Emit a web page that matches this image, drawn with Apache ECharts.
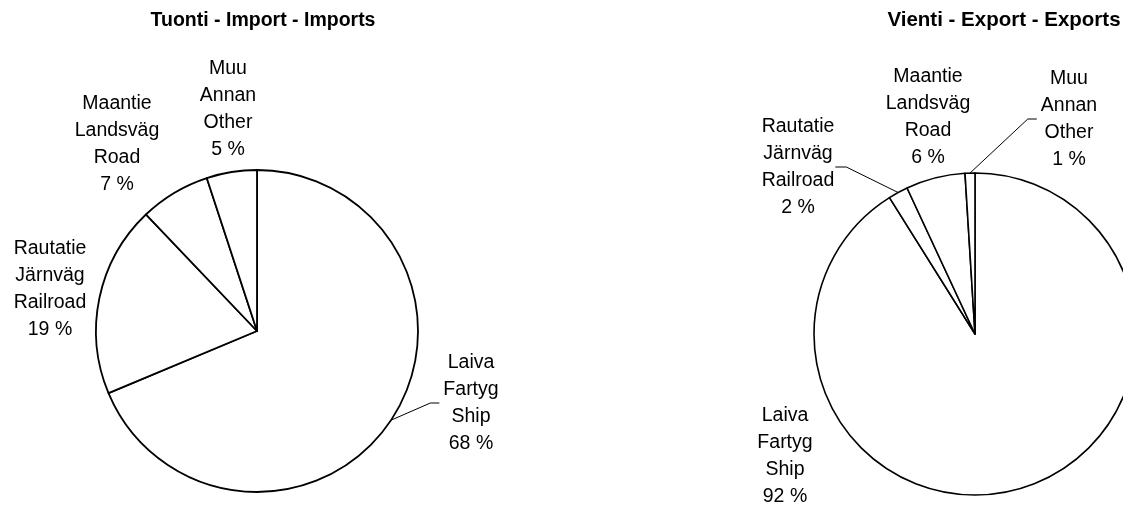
<!DOCTYPE html>
<html>
<head>
<meta charset="UTF-8">
<title>Tuonti ja vienti kuljetusmuodoittain</title>
<script type="text/javascript" src="https://cdn.jsdelivr.net/npm/echarts@6/dist/echarts.min.js"></script>
<style>
  html, body { margin: 0; padding: 0; background: #fff; }
</style>
</head>
<body>
<div id="main" style="width:1123px;height:509px"></div>
<script type="text/javascript">
// kuljetusmuodot, sama järjestys molemmissa piirakoissa (myötäpäivään klo 12:sta)
var categories = ['Laiva\nFartyg\nShip', 'Rautatie\nJärnväg\nRailroad', 'Maantie\nLandsväg\nRoad', 'Muu\nAnnan\nOther'];
var importShare = [68, 19, 7, 5];   // %
var exportShare = [92, 2, 6, 1];    // %
var titles = ['Tuonti - Import - Imports', 'Vienti - Export - Exports'];

// tekstien paikat (keskipiste) ja ohjausviivat
var importLabelPos = [[471, 403], [50, 289], [117, 144], [228, 109]];
var exportLabelPos = [[785, 456], [798, 167], [928, 117], [1069, 119]];
var importLeader = [true, false, false, false];
var exportLeader = [false, true, false, true];

var FONT = '"Liberation Sans", Arial, Helvetica, sans-serif';

function makeData(values, leader) {
  return values.map(function (v, i) {
    return { name: categories[i], value: v, labelLine: { show: leader[i] } };
  });
}

function makeLayout(pos) {
  return function (params) {
    var p = pos[params.dataIndex];
    var w = params.labelRect.width;
    var out = { x: p[0], y: p[1], align: 'center', verticalAlign: 'middle' };
    var pts = params.labelLinePoints;
    if (pts) {
      var start = pts[0];
      var left = p[0] - w / 2, right = p[0] + w / 2;
      if (start[0] > right) {
        out.labelLinePoints = [start, [right + 12, p[1]], [right + 1, p[1]]];
      } else {
        out.labelLinePoints = [start, [left - 13, p[1]], [left - 4, p[1]]];
      }
    }
    return out;
  };
}

function pieSeries(values, leader, pos, center, bw) {
  return {
    type: 'pie',
    center: center,
    radius: 161,
    startAngle: 90,
    clockwise: true,
    avoidLabelOverlap: false,
    silent: true,
    itemStyle: { color: '#fff', borderColor: '#000', borderWidth: bw },
    label: {
      show: true,
      position: 'outside',
      formatter: '{b}\n{c} %',
      color: '#000',
      fontFamily: FONT,
      fontSize: 19.5,
      lineHeight: 27
    },
    labelLine: { show: true, length: 10, length2: 10, lineStyle: { color: '#000', width: 1 } },
    labelLayout: makeLayout(pos),
    emphasis: { disabled: true },
    data: makeData(values, leader)
  };
}

var myEcharts = echarts.init(document.getElementById('main'));
var option = {
  animation: false,
  backgroundColor: '#fff',
  title: [
    { text: titles[0], left: 258, top: 6, textAlign: 'center',
      textStyle: { fontFamily: FONT, fontSize: 19.5, fontWeight: 'bold', color: '#000' } },
    { text: titles[1], left: 999, top: 5, textAlign: 'center',
      textStyle: { fontFamily: FONT, fontSize: 20.5, fontWeight: 'bold', color: '#000' } }
  ],
  series: [
    pieSeries(importShare, importLeader, importLabelPos, [257, 331], 1.8),
    pieSeries(exportShare, exportLeader, exportLabelPos, [975, 334], 1.6)
  ]
};
myEcharts.setOption(option);
</script>
</body>
</html>
